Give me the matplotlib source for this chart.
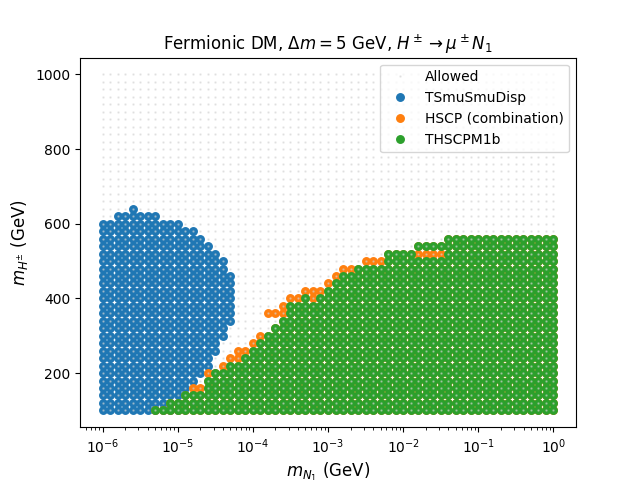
import numpy as np
import matplotlib.pyplot as plt

# scan grid: 61 log-spaced N1 masses, H+- mass in 20 GeV steps
mN = np.logspace(-6, 0, 61)
mH = np.arange(100, 1001, 20)

# TSmuSmuDisp: excluded band per mN column (columns 0..17)
blue_lo = [100, 100, 100, 100, 100, 100, 100, 100, 100, 100, 100,
           160, 180, 200, 220, 260, 300, 340]
blue_hi = [600, 600, 620, 620, 640, 620, 620, 620, 600, 600, 600,
           580, 580, 560, 540, 520, 500, 460]

# THSCPM1b: excluded from 100 GeV up to green_hi (columns 7..60)
green_first = 7
green_hi = [100, 100, 120, 120, 140, 140, 140, 180, 200, 200,
            220, 220, 240, 260, 280, 300, 320, 340, 380, 380,
            400, 380, 400, 420, 440, 460, 460, 480, 480, 480,
            480, 520, 520, 520, 520, 540, 540, 540, 540,
            560, 560, 560, 560, 560, 560, 560, 560, 560, 560,
            560, 560, 560, 560, 560]

# HSCP (combination): cells visible above / inside the THSCPM1b region
orange_cols = [12, 13, 14, 16, 17, 18, 19, 20, 21, 22, 23, 24, 25, 26,
               27, 28, 29, 30, 31, 32, 33, 35, 36, 37, 42, 43, 44, 45]
orange_lo = [160, 160, 200, 220, 240, 240, 260, 280, 300, 360, 360, 360, 400, 400,
             420, 400, 420, 440, 460, 480, 480, 500, 500, 500, 520, 520, 520, 520]
orange_hi = [160, 160, 200, 220, 240, 260, 260, 280, 300, 360, 360, 380, 400, 400,
             420, 420, 420, 440, 460, 480, 480, 500, 500, 500, 520, 520, 520, 520]


def band_points(cols, lo, hi):
    xs, ys = [], []
    for c, a, b in zip(cols, lo, hi):
        for m in mH[(mH >= a) & (mH <= b)]:
            xs.append(mN[c])
            ys.append(m)
    return xs, ys


def main():
    # blue
    bx, by = band_points(range(len(blue_hi)), blue_lo, blue_hi)

    # orange cells that show, green everywhere else below green_hi
    ox, oy = band_points(orange_cols, orange_lo, orange_hi)
    orange_cells = set(zip(ox, oy))
    gx, gy = [], []
    gcols = range(green_first, green_first + len(green_hi))
    for x, y in zip(*band_points(gcols, [100] * len(green_hi), green_hi)):
        if (x, y) not in orange_cells:
            gx.append(x)
            gy.append(y)

    # HSCP also excludes everything under the THSCPM1b region
    hx = list(gx) + list(ox)
    hy = list(gy) + list(oy)

    ax_x, ax_y = np.meshgrid(mN, mH)

    fig, ax = plt.subplots(figsize=(6.4, 4.8))
    ax.plot(ax_x.ravel(), ax_y.ravel(), '.', color='lightgray', alpha=0.5, ms=1.5,
            zorder=5, label='Allowed')
    ax.plot(bx, by, 'o', color='C0', ms=5.4, label='TSmuSmuDisp')
    ax.plot(hx, hy, 'o', color='C1', ms=5.4, label='HSCP (combination)')
    ax.plot(gx, gy, 'o', color='C2', ms=5.4, label='THSCPM1b')

    ax.set_xscale('log')
    ax.set_xlabel(r'$m_{N_1}$ (GeV)', fontsize=12)
    ax.set_ylabel(r'$m_{H^{\pm}}$ (GeV)', fontsize=12)
    ax.set_title(r'Fermionic DM, $\Delta m = 5$ GeV, $H^\pm \to \mu^\pm N_1$')
    ax.legend(loc='upper right')

    plt.savefig('out.png')
    plt.close(fig)


if __name__ == '__main__':
    main()
